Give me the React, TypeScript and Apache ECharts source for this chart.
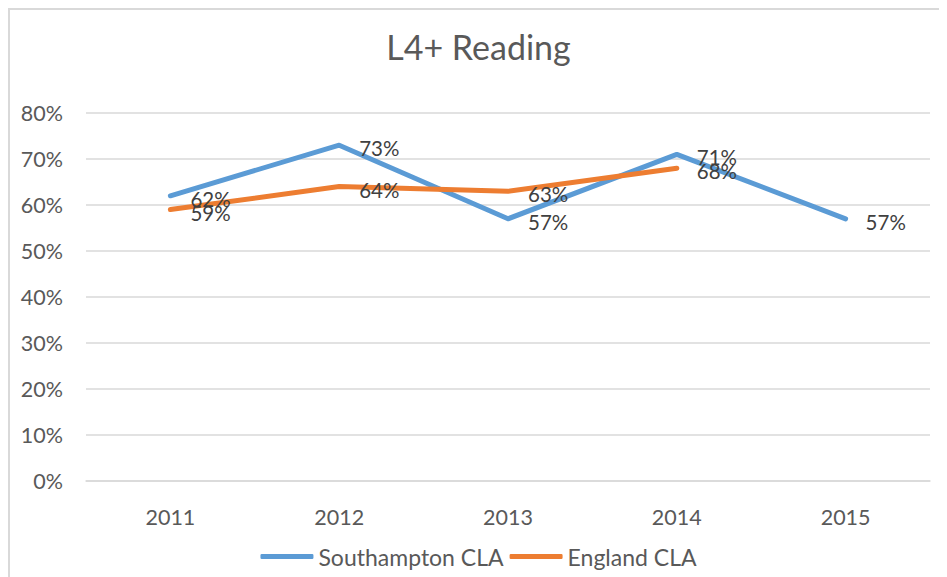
import React, { useEffect, useRef } from "react";
import * as echarts from "echarts";

const years = ["2011", "2012", "2013", "2014", "2015"];
const southampton = [62, 73, 57, 71, 57];
const england: (number | null)[] = [59, 64, 63, 68, null];
const yTicks = { min: 0, max: 80, interval: 10 };

const FONT = "Lato, 'Open Sans', sans-serif";

export default function App() {
  const ref = useRef<HTMLDivElement>(null);
  useEffect(() => {
    if (!ref.current) return;
    const chart = echarts.init(ref.current, undefined, { renderer: "svg" });
    const label = {
      show: true,
      position: "right" as const,
      distance: 20,
      offset: [0, 3],
      formatter: (p: any) => `${p.value}%`,
      color: "#404040",
      fontSize: 20.5,
      fontFamily: FONT,
    };
    chart.setOption({
      animation: false,
      backgroundColor: "#ffffff",
      title: {
        text: "L4+ Reading",
        left: "center",
        top: 14,
        textStyle: { color: "#595959", fontSize: 34, fontWeight: "normal", fontFamily: FONT },
      },
      legend: {
        bottom: 4,
        left: "center",
        itemWidth: 53,
        itemHeight: 5,
        itemGap: 6,
        icon: "roundRect",
        textStyle: { color: "#595959", fontSize: 23, fontFamily: FONT },
        data: ["Southampton CLA", "England CLA"],
      },
      grid: { left: 76, right: 17, top: 103, bottom: 96, containLabel: false },
      xAxis: {
        type: "category",
        data: years,
        boundaryGap: true,
        axisLine: { show: true, lineStyle: { color: "#d9d9d9", width: 1.5 } },
        axisTick: { show: false },
        axisLabel: { color: "#595959", fontSize: 21.5, fontFamily: FONT, margin: 25 },
      },
      yAxis: {
        type: "value",
        min: yTicks.min,
        max: yTicks.max,
        interval: yTicks.interval,
        axisLine: { show: false },
        axisTick: { show: false },
        splitLine: { lineStyle: { color: "#d9d9d9", width: 1.5 } },
        axisLabel: { color: "#595959", fontSize: 21.5, fontFamily: FONT, margin: 23, formatter: "{value}%" },
      },
      series: [
        {
          name: "Southampton CLA",
          type: "line",
          data: southampton,
          symbol: "circle",
          symbolSize: 0,
          showSymbol: true,
          color: "#5B9BD5",
          lineStyle: { width: 5, color: "#5B9BD5", cap: "round", join: "round" },
          label,
        },
        {
          name: "England CLA",
          type: "line",
          data: england,
          symbol: "circle",
          symbolSize: 0,
          showSymbol: true,
          color: "#ED7D31",
          lineStyle: { width: 5, color: "#ED7D31", cap: "round", join: "round" },
          label,
        },
      ],
    });
    return () => chart.dispose();
  }, []);
  return (
    <div
      style={{
        width: 939,
        height: 569,
        boxSizing: "border-box",
        borderLeft: "2px solid #d9d9d9",
        borderTop: "2px solid #d9d9d9",
      }}
    >
      <div ref={ref} style={{ width: 937, height: 567 }} />
    </div>
  );
}
